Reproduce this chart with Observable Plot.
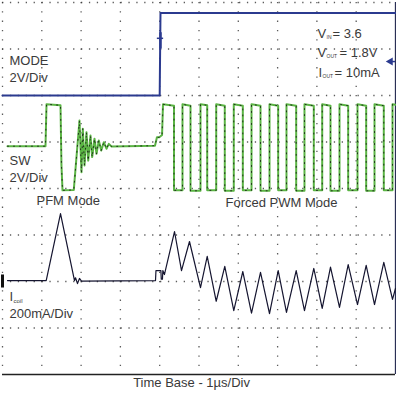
<!DOCTYPE html>
<html>
<head>
<meta charset="utf-8">
<script src="https://cdn.jsdelivr.net/npm/d3@7"></script>
<script src="https://cdn.jsdelivr.net/npm/@observablehq/plot@0.6"></script>
<style>
  html, body { margin: 0; padding: 0; background: #fff; }
  #chart svg { display: block; }
</style>
</head>
<body>
<div id="chart"></div>
<script>
// ---- Data (time in µs; screen is 10 div × 1 µs/div, 8 vertical divisions) ----
// Channel settings: [zero position in div, units per div]
const modeScale = [6.0, 2];     // MODE, 2 V/div
const swScale   = [4.0, 2];     // SW, 2 V/div
const iScale    = [2.0, 200];   // Icoil, 200 mA/div

// MODE signal (V)
const modeTime = [0, 4.0, 4.02, 10];
const modeVolt = [0, 0, 3.55, 3.55];

// SW node voltage (V)
const swTime = [
  0.127, 1.094, 1.12, 1.476, 1.50, 1.527, 1.814, 1.959, 2.010, 2.043, 2.087, 2.137, 2.181,
  2.239, 2.282, 2.341, 2.392, 2.450, 2.511, 2.578, 2.646, 2.705, 2.774, 3.88, 3.93, 3.99, 4.06,
  4.084, 4.364, 4.364, 4.580, 4.580, 4.784, 4.784, 5.038, 5.038, 5.209, 5.209, 5.438, 5.438,
  5.656, 5.656, 5.885, 5.885, 6.115, 6.115, 6.336, 6.336, 6.565, 6.565, 6.794, 6.794, 7.015,
  7.015, 7.226, 7.226, 7.473, 7.473, 7.684, 7.684, 7.921, 7.921, 8.135, 8.135, 8.346, 8.346,
  8.575, 8.575, 8.796, 8.796, 9.033, 9.033, 9.254, 9.254, 9.466, 9.466, 9.702, 9.702, 9.924,
  9.924, 10
];
const swVolt = [
  1.82, 1.82, 3.62, 3.58, 1.0, -0.08, -0.06, 2.92, 0.70, 2.57, 0.99, 2.42, 1.20,
  2.28, 1.35, 2.14, 1.49, 2.06, 1.63, 1.99, 1.71, 1.92, 1.81, 1.84, 2.2, 2.2, 2.3,
  3.62, 3.56, -0.08, -0.08, 3.62, 3.56, -0.1, -0.1, 3.62, 3.58, -0.08, -0.08, 3.62,
  3.56, -0.1, -0.1, 3.62, 3.56, -0.08, -0.08, 3.62, 3.56, -0.1, -0.1, 3.62, 3.56,
  -0.08, -0.08, 3.62, 3.56, -0.1, -0.1, 3.62, 3.56, -0.08, -0.08, 3.62, 3.56, -0.1,
  -0.1, 3.62, 3.56, -0.08, -0.08, 3.62, 3.56, -0.1, -0.1, 3.62, 3.56, -0.08, -0.08,
  3.62, 3.6
];

// Coil current (mA)
const iTime = [
  0.127, 1.112, 1.476, 1.832, 1.858, 1.908, 1.959, 2.010, 3.893, 3.905, 4.03, 4.04, 4.07, 4.08, 4.12,
  4.377, 4.555, 4.758, 5.038, 5.209, 5.438, 5.656, 5.885, 6.115, 6.336, 6.565, 6.794, 7.015,
  7.226, 7.473, 7.684, 7.921, 8.135, 8.346, 8.575, 8.796, 9.033, 9.254, 9.466, 9.702, 9.924, 10
];
const iCurrent = [
  4, 4, 292, 4, 16, -9, 13, 2, 4, 47, 47, 10, 10, 47, 30,
  215, 47, 172, -26, 108, -85, 65, -125, 43, -136, 39, -138, 47,
  -133, 47, -125, 56, -116, 62, -111, 73, -99, 69, -99, 82, -77, -30
];

// Labels
const modeLabel = ["MODE", "2V/Div"];
const swLabel = ["SW", "2V/Div"];
const coilLabel = ["I", "coil", "200mA/Div"];
const modeNames = ["PFM Mode", "Forced PWM Mode"];
const condSymbols = ["V", "V", "I"];
const condSubs = ["IN", "OUT", "OUT"];
const condValues = ["= 3.6", "= 1.8V", "= 10mA"];
const timeBase = "Time Base - 1µs/Div";

// ---- Build series in screen divisions ----
const toDiv = (s, v) => s[0] + v / s[1];
const mode = modeTime.map((t, i) => ({t, y: toDiv(modeScale, modeVolt[i])}));
const sw = swTime.map((t, i) => ({t, y: toDiv(swScale, swVolt[i])}));
const coil = iTime.map((t, i) => ({t, y: toDiv(iScale, iCurrent[i])}));

const divsX = d3.range(0, 11);
const divsY = d3.range(0, 9);

const font = "'Liberation Sans', Arial, Helvetica, sans-serif";
const txt = "#3a3a3a";
const blue = "#2b3a8f";
const green = "#5bb544";
const fs = 13;
const sub = 5;

const chart = Plot.plot({
  width: 396,
  height: 396,
  marginLeft: 2,
  marginRight: 1,
  marginTop: 2,
  marginBottom: 22,
  style: {fontFamily: font, background: "#fff"},
  x: {domain: [0, 10], axis: null},
  y: {domain: [0, 8], axis: null},
  marks: [
    // grid
    Plot.ruleX(divsX.filter(d => d < 10), {stroke: "#333", strokeWidth: 1.3, strokeDasharray: "1.3,8", strokeOpacity: 0.8}),
    Plot.ruleY(divsY.filter(d => d > 0), {stroke: "#333", strokeWidth: 1.3, strokeDasharray: "1.3,6.6", strokeOpacity: 0.8}),
    Plot.ruleY([0], {stroke: "#222", strokeWidth: 1.3}),
    Plot.ruleX([10], {stroke: "#2a2f55", strokeWidth: 1.3}),
    // traces
    Plot.line(mode, {x: "t", y: "y", stroke: blue, strokeWidth: 2}),
    Plot.line(sw, {x: "t", y: "y", stroke: green, strokeWidth: 2}),
    Plot.line(sw, {x: "t", y: "y", stroke: "#111", strokeWidth: 1, strokeDasharray: "1,5", strokeOpacity: 0.8}),
    Plot.line(coil, {x: "t", y: "y", stroke: "#151530", strokeWidth: 1.2}),
    // markers
    Plot.ruleY([7.23], {x1: 3.94, x2: 4.1, stroke: blue, strokeWidth: 1.5}),
    Plot.ruleX([4.02], {y1: 7.0, y2: 7.35, stroke: blue, strokeWidth: 2.5}),
    Plot.ruleY([6.73], {x1: 9.86, x2: 10, stroke: blue, strokeWidth: 1.5}),
    Plot.dot([6.73], {x: 9.87, y: d => d, symbol: "triangle", rotate: -90, r: 3, fill: blue, stroke: "none"}),
    Plot.ruleX([0], {y1: 1.86, y2: 2.14, stroke: "#111", strokeWidth: 3}),
    // channel labels
    Plot.text([modeLabel[0]], {x: 0.178, y: 6.753, text: d => d, textAnchor: "start", fontSize: fs, fill: txt}),
    Plot.text([modeLabel[1]], {x: 0.178, y: 6.387, text: d => d, textAnchor: "start", fontSize: fs, fill: txt}),
    Plot.text([swLabel[0]], {x: 0.178, y: 4.602, text: d => d, textAnchor: "start", fontSize: fs, fill: txt}),
    Plot.text([swLabel[1]], {x: 0.178, y: 4.237, text: d => d, textAnchor: "start", fontSize: fs, fill: txt}),
    Plot.text([coilLabel[0]], {x: 0.178, y: 1.67, text: d => d, textAnchor: "start", fontSize: fs, fill: txt}),
    Plot.text([coilLabel[1]], {x: 0.178, y: 1.67, text: d => d, textAnchor: "start", fontSize: 6, dx: 4, dy: 4, fill: txt}),
    Plot.text([coilLabel[2]], {x: 0.178, y: 1.312, text: d => d, textAnchor: "start", fontSize: fs, fill: txt}),
    Plot.text([modeNames[0]], {x: 0.865, y: 3.742, text: d => d, textAnchor: "start", fontSize: fs, fill: txt}),
    Plot.text([modeNames[1]], {x: 5.674, y: 3.699, text: d => d, textAnchor: "start", fontSize: fs, fill: txt}),
    // operating conditions
    Plot.text([0], {x: 8.015, y: 7.333, text: i => condSymbols[i], textAnchor: "start", fontSize: fs, fill: txt}),
    Plot.text([0], {x: 8.015, y: 7.333, text: i => condSubs[i], textAnchor: "start", fontSize: sub, dx: 9, dy: 3.5, fill: txt}),
    Plot.text([0], {x: 8.015, y: 7.333, text: i => condValues[i], textAnchor: "start", fontSize: fs, dx: 15, fill: txt}),
    Plot.text([1], {x: 8.015, y: 6.925, text: i => condSymbols[i], textAnchor: "start", fontSize: fs, fill: txt}),
    Plot.text([1], {x: 8.015, y: 6.925, text: i => condSubs[i], textAnchor: "start", fontSize: sub, dx: 9, dy: 3.5, fill: txt}),
    Plot.text([1], {x: 8.015, y: 6.925, text: i => condValues[i], textAnchor: "start", fontSize: fs, dx: 22, fill: txt}),
    Plot.text([2], {x: 8.015, y: 6.495, text: i => condSymbols[i], textAnchor: "start", fontSize: fs, dx: 1, fill: txt}),
    Plot.text([2], {x: 8.015, y: 6.495, text: i => condSubs[i], textAnchor: "start", fontSize: sub, dx: 5, dy: 3.5, fill: txt}),
    Plot.text([2], {x: 8.015, y: 6.495, text: i => condValues[i], textAnchor: "start", fontSize: fs, dx: 17, fill: txt}),
    // time base caption
    Plot.text([timeBase], {x: 4.81, frameAnchor: "bottom", dy: 12, text: d => d, fontSize: fs, fill: txt})
  ]
});
document.getElementById("chart").appendChild(chart);
</script>
</body>
</html>
